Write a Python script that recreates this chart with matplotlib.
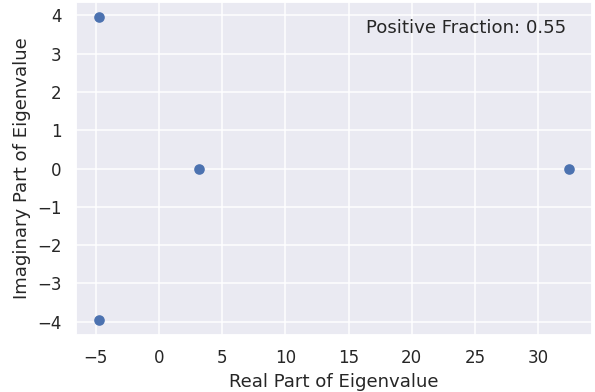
import matplotlib
matplotlib.use("Agg")
import matplotlib.pyplot as plt
import seaborn as sns

# Eigenvalues
real_parts = [-4.7, -4.7, 3.2, 32.4]
imag_parts = [3.95, -3.95, 0.0, 0.0]
positive_fraction = 0.55

sns.set_theme(style="darkgrid")
plt.rcParams["font.family"] = ["DejaVu Sans"]

dpi = 109
fig, ax = plt.subplots(figsize=(595 / dpi, 392 / dpi), dpi=dpi)
ax.scatter(real_parts, imag_parts)
ax.set_xlabel("Real Part of Eigenvalue")
ax.set_ylabel("Imaginary Part of Eigenvalue")
ax.text(
    0.95,
    0.95,
    f"Positive Fraction: {positive_fraction:.2f}",
    transform=ax.transAxes,
    ha="right",
    va="top",
)
fig.subplots_adjust(left=76 / 595, right=592 / 595, top=1 - 2 / 392, bottom=1 - 335 / 392)
fig.savefig("out.png", dpi=dpi)
